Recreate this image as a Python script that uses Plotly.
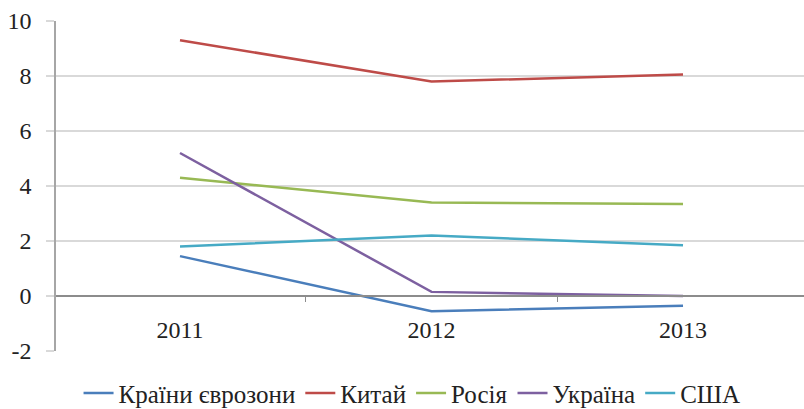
import plotly.graph_objects as go

years = ["2011", "2012", "2013"]
series_names = ["Країни єврозони", "Китай", "Росія", "Україна", "США"]
eurozone = [1.45, -0.55, -0.35]
china = [9.3, 7.8, 8.05]
russia = [4.3, 3.4, 3.35]
ukraine = [5.2, 0.15, 0.0]
usa = [1.8, 2.2, 1.85]
colors = ["#4A7EBB", "#BE4B48", "#98B954", "#7D60A0", "#46AAC5"]
y_ticks = [-2, 0, 2, 4, 6, 8, 10]

font_family = "Liberation Serif, DejaVu Serif, serif"

fig = go.Figure()
for name, vals, col in zip(series_names, [eurozone, china, russia, ukraine, usa], colors):
    fig.add_trace(go.Scatter(x=years, y=vals, mode="lines", name=name,
                             line=dict(color=col, width=2.5)))

fig.update_layout(
    width=804, height=409,
    margin=dict(l=56, r=0, t=21, b=58, autoexpand=False),
    paper_bgcolor="white", plot_bgcolor="white",
    font=dict(family=font_family, size=24, color="#222222"),
    showlegend=True,
    legend=dict(orientation="h",
                x=0.476, xanchor="center", y=-0.128, yanchor="middle",
                font=dict(size=25, family=font_family, color="#222222"),
                itemwidth=30, bgcolor="rgba(0,0,0,0)"),
)
fig.update_yaxes(range=[-2, 10], tickvals=y_ticks, ticktext=[str(v) for v in y_ticks],
                 showgrid=True, gridcolor="#D9D9D9", gridwidth=1.5,
                 zeroline=False, showline=True, linecolor="#A6A6A6", linewidth=1.5,
                 ticks="outside", ticklen=8, tickcolor="#D9D9D9", tickwidth=1.5,
                 ticklabelstandoff=10, fixedrange=True)
fig.update_xaxes(type="category", range=[-0.493, 2.481], anchor="free", position=2/12,
                 showgrid=False, showline=True, linecolor="#8C8C8C", linewidth=1.5,
                 ticks="outside", tickson="boundaries", ticklen=5, tickcolor="#8C8C8C",
                 ticklabelstandoff=12, fixedrange=True)

fig.write_html("out.html", config={"displayModeBar": False},
               post_script="document.body.style.margin='0';document.body.style.padding='0';")
